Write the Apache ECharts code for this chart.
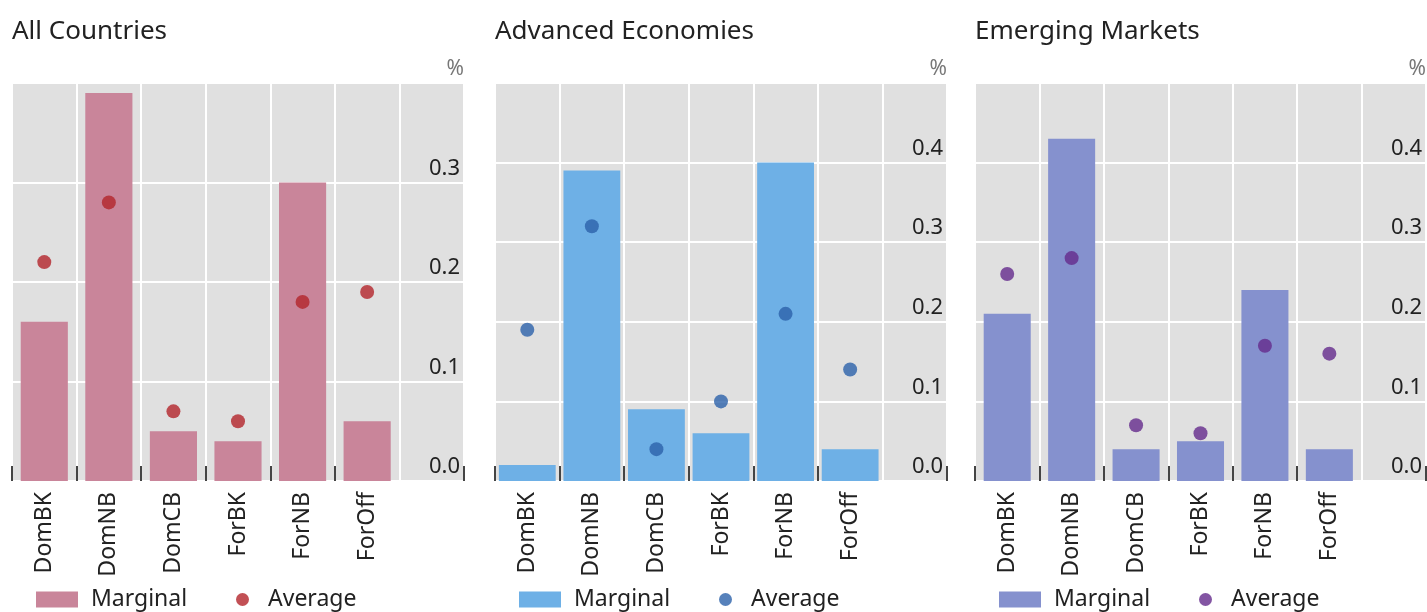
<!DOCTYPE html>
<html>
<head>
<meta charset="utf-8">
<script src="https://cdn.jsdelivr.net/npm/echarts@6/dist/echarts.min.js"></script>
<style>
html,body{margin:0;padding:0;background:#fff;}
#main{width:1427px;height:612px;}
</style>
</head>
<body>
<div id="main"></div>
<script>
const categories = ['DomBK', 'DomNB', 'DomCB', 'ForBK', 'ForNB', 'ForOff'];
const panelTitles = ['All Countries', 'Advanced Economies', 'Emerging Markets'];
const allMarginal = [0.16, 0.39, 0.05, 0.04, 0.30, 0.06];
const allAverage  = [0.22, 0.28, 0.07, 0.06, 0.18, 0.19];
const advMarginal = [0.02, 0.39, 0.09, 0.06, 0.40, 0.04];
const advAverage  = [0.19, 0.32, 0.04, 0.10, 0.21, 0.14];
const emMarginal  = [0.21, 0.43, 0.04, 0.05, 0.24, 0.04];
const emAverage   = [0.26, 0.28, 0.07, 0.06, 0.17, 0.16];
const yMax = [0.4, 0.5, 0.5];
const yUnit = '%';
const legendNames = ['Marginal', 'Average'];

const FONT = '"Noto Sans", "Open Sans", sans-serif';
const panels = [
  {left: 12, marg: allMarginal, avg: allAverage, barColor: '#C9859A', dotColor: '#B3242A', gap: '27%'},
  {left: 495, marg: advMarginal, avg: advAverage, barColor: '#6EB0E6', dotColor: '#2C62AA', gap: '12%'},
  {left: 975, marg: emMarginal, avg: emAverage, barColor: '#8591CE', dotColor: '#642A8C', gap: '27%'}
];
const W = 452;

const grid = [], xAxis = [], yAxis = [], series = [], title = [], legend = [];
panels.forEach((p, i) => {
  grid.push({left: p.left, top: 83, width: W, height: 398, show: true, backgroundColor: '#E0E0E0', borderWidth: 0});
  title.push({text: panelTitles[i], left: p.left - 5, top: 14,
    textStyle: {fontFamily: FONT, fontSize: 26, fontWeight: 'normal', color: '#222'}});
  xAxis.push({
    type: 'category', gridIndex: i, data: categories.concat(['']),
    boundaryGap: true,
    axisLine: {show: false},
    axisTick: {show: true, inside: true, length: 15, interval: (idx) => idx < categories.length,
      lineStyle: {color: '#444', width: 2}},
    splitLine: {show: true, interval: 0, lineStyle: {color: '#fff', width: 2}},
    axisLabel: {rotate: 90, margin: 11, interval: 0, fontFamily: FONT, fontSize: 23, color: '#222'}
  });
  yAxis.push({
    type: 'value', gridIndex: i, position: 'right', min: 0, max: yMax[i], interval: 0.1,
    name: yUnit, nameLocation: 'end', nameGap: 3,
    nameTextStyle: {fontFamily: FONT, fontSize: 21, color: '#777', align: 'right', verticalAlign: 'bottom'},
    axisLine: {show: false}, axisTick: {show: false},
    splitLine: {show: true, lineStyle: {color: '#fff', width: 2}},
    axisLabel: {inside: true, margin: 4, showMaxLabel: false, verticalAlign: 'bottom',
      padding: [0, 0, 3, 0],
      fontFamily: FONT, fontSize: 22, color: '#222',
      formatter: (v) => v.toFixed(1)}
  });
  series.push({
    name: legendNames[0], type: 'bar', xAxisIndex: i, yAxisIndex: i,
    data: p.marg, barCategoryGap: p.gap,
    itemStyle: {color: p.barColor}
  });
  series.push({
    name: legendNames[1], type: 'scatter', xAxisIndex: i, yAxisIndex: i,
    data: p.avg, symbol: 'circle', symbolSize: 14, z: 5,
    itemStyle: {color: p.dotColor}
  });
  legend.push({
    left: p.left + 24, top: 588, padding: 0, itemWidth: 42, itemHeight: 16, selectedMode: false,
    data: [{name: legendNames[0], icon: 'rect', itemStyle: {color: p.barColor}}],
    textStyle: {fontFamily: FONT, fontSize: 23, color: '#222', padding: [0, 0, 0, 8]}
  });
  legend.push({
    left: p.left + 224, top: 588, padding: 0, itemWidth: 13, itemHeight: 13, selectedMode: false,
    data: [{name: legendNames[1], icon: 'circle', itemStyle: {color: p.dotColor}}],
    textStyle: {fontFamily: FONT, fontSize: 23, color: '#222', padding: [0, 0, 0, 14]}
  });
});

const chart = echarts.init(document.getElementById('main'), null, {renderer: 'canvas'});
chart.setOption({
  animation: false,
  backgroundColor: '#fff',
  title, grid, xAxis, yAxis, series, legend
});
</script>
</body>
</html>
